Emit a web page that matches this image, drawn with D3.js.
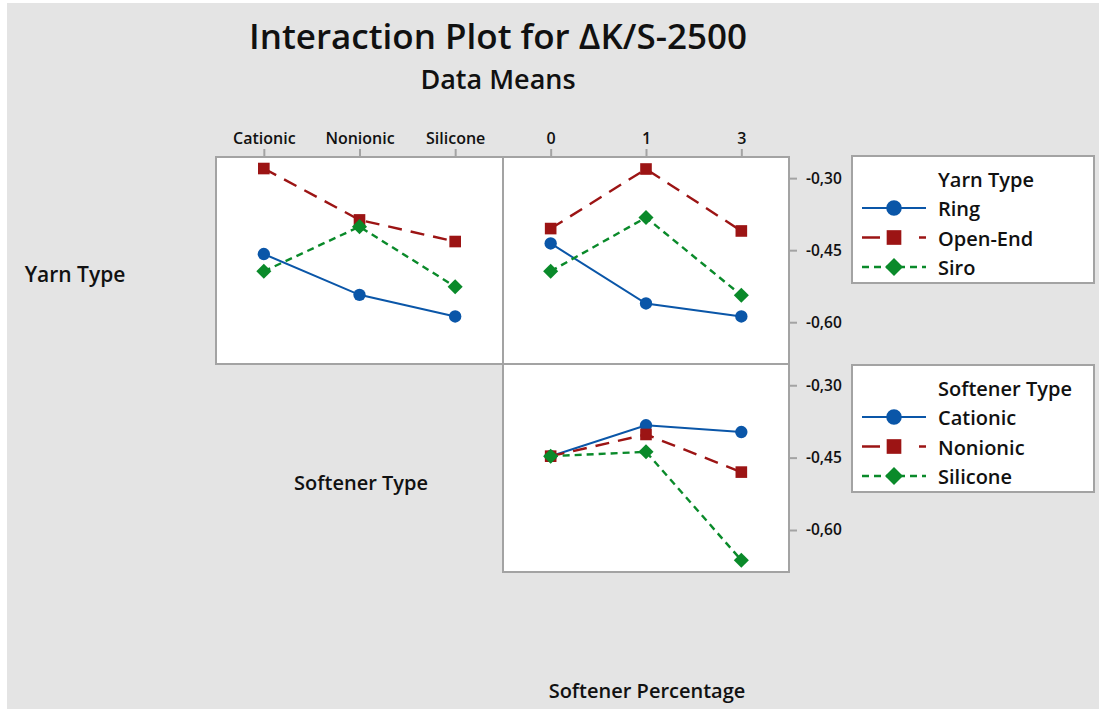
<!DOCTYPE html>
<html>
<head>
<meta charset="utf-8">
<script src="https://cdn.jsdelivr.net/npm/d3@7"></script>
<style>
  html, body { margin: 0; padding: 0; background: #ffffff; }
  svg { display: block; }
  text { font-family: "Open Sans", "Noto Sans", sans-serif; font-weight: 600; fill: #111; }
</style>
</head>
<body>
<svg id="chart" width="1099" height="709"></svg>
<script>
// Factor levels
const softenerTypes = ["Cationic", "Nonionic", "Silicone"];
const softenerPercentages = ["0", "1", "3"];
const yarnTypes = ["Ring", "Open-End", "Siro"];

// Means of ΔK/S-2500 for each yarn type across softener types
const ringBySoftener     = [-0.458, -0.543, -0.588];
const openEndBySoftener  = [-0.280, -0.387, -0.432];
const siroBySoftener     = [-0.494, -0.401, -0.526];

// Means for each yarn type across softener percentages
const ringByPercent      = [-0.436, -0.561, -0.588];
const openEndByPercent   = [-0.405, -0.281, -0.410];
const siroByPercent      = [-0.494, -0.382, -0.544];

// Means for each softener type across softener percentages
const cationicByPercent  = [-0.447, -0.383, -0.397];
const nonionicByPercent  = [-0.447, -0.402, -0.480];
const siliconeByPercent  = [-0.447, -0.438, -0.6625];

// Response axis ticks
const yTicks = [-0.30, -0.45, -0.60];
const yDomain = [-0.687, -0.256];

const svg = d3.select("#chart");
const W = 1099, H = 709;

// Canvas background
svg.append("rect").attr("x", 7).attr("y", 3).attr("width", W - 7).attr("height", H - 3).attr("fill", "#e4e4e4");

// Series styling (Minitab-like)
const styles = [
  { color: "#0a56a8", dash: null,   width: 2,   symbol: d3.symbolCircle,   size: 120, legendSize: 190 },
  { color: "#9c1414", dash: "14,9", width: 2.4, symbol: d3.symbolSquare,   size: 135, legendSize: 215 },
  { color: "#0a8a2a", dash: "7,5",  width: 2.4, symbol: d3.symbolDiamond2, size: 145, legendSize: 205 }
];

const locale = d3.formatLocale({ decimal: ",", thousands: ".", grouping: [3], currency: ["", ""], minus: "-" });
const fmt = locale.format(".2f");

// Panel grid
const colX = [216, 503, 789];
const rowY = [157, 364, 572];

function panel(x0, x1, y0, y1) {
  svg.append("rect")
    .attr("x", x0).attr("y", y0).attr("width", x1 - x0).attr("height", y1 - y0)
    .attr("fill", "#ffffff").attr("stroke", "#a3a3a3").attr("stroke-width", 2);
}

function drawSeries(xScale, yScale, cats, seriesList) {
  const g = svg.append("g");
  seriesList.forEach((vals, i) => {
    const st = styles[i];
    const pts = cats.map((c, j) => [xScale(c), yScale(vals[j])]);
    g.append("path")
      .attr("d", d3.line()(pts))
      .attr("fill", "none")
      .attr("stroke", st.color)
      .attr("stroke-width", st.width)
      .attr("stroke-dasharray", st.dash);
  });
  seriesList.forEach((vals, i) => {
    const st = styles[i];
    g.selectAll(null).data(vals).join("path")
      .attr("transform", (v, j) => `translate(${xScale(cats[j])},${yScale(v)})`)
      .attr("d", d3.symbol().type(st.symbol).size(st.size))
      .attr("fill", st.color);
  });
}

function styleAxis(g, fontSize) {
  g.select(".domain").remove();
  g.selectAll(".tick line").attr("stroke", "#a3a3a3").attr("stroke-width", 2);
  g.selectAll(".tick text")
    .attr("fill", "#111")
    .style("font-family", '"Open Sans", "Noto Sans", sans-serif')
    .style("font-weight", 600)
    .style("font-size", fontSize + "px");
}

// Panels
panel(colX[0], colX[1], rowY[0], rowY[1]);
panel(colX[1], colX[2], rowY[0], rowY[1]);
panel(colX[1], colX[2], rowY[1], rowY[2]);

// Scales
const xSoft = d3.scalePoint().domain(softenerTypes).range([colX[0], colX[1]]).padding(0.5);
const xPct = d3.scalePoint().domain(softenerPercentages).range([colX[1], colX[2]]).padding(0.5);
const yTop = d3.scaleLinear().domain(yDomain).range([rowY[1], rowY[0]]);
const yBot = d3.scaleLinear().domain(yDomain).range([rowY[2], rowY[1]]);

// Axes
styleAxis(svg.append("g").attr("transform", `translate(0,${rowY[0]})`)
  .call(d3.axisTop(xSoft).tickSize(8).tickPadding(5)), 16);
styleAxis(svg.append("g").attr("transform", `translate(0,${rowY[0]})`)
  .call(d3.axisTop(xPct).tickSize(8).tickPadding(5)), 16);
styleAxis(svg.append("g").attr("transform", `translate(${colX[2]},0)`)
  .call(d3.axisRight(yTop).tickValues(yTicks).tickFormat(fmt).tickSize(8).tickPadding(9)), 15.5);
styleAxis(svg.append("g").attr("transform", `translate(${colX[2]},0)`)
  .call(d3.axisRight(yBot).tickValues(yTicks).tickFormat(fmt).tickSize(8).tickPadding(9)), 15.5);

// Lines and markers
drawSeries(xSoft, yTop, softenerTypes, [ringBySoftener, openEndBySoftener, siroBySoftener]);
drawSeries(xPct, yTop, softenerPercentages, [ringByPercent, openEndByPercent, siroByPercent]);
drawSeries(xPct, yBot, softenerPercentages, [cationicByPercent, nonionicByPercent, siliconeByPercent]);

// Titles
svg.append("text").attr("x", 498).attr("y", 49).attr("text-anchor", "middle")
  .style("font-size", "35px").text("Interaction Plot for ΔK/S-2500");
svg.append("text").attr("x", 498).attr("y", 89).attr("text-anchor", "middle")
  .style("font-size", "27px").text("Data Means");

// Diagonal factor labels
svg.append("text").attr("x", 75).attr("y", 282).attr("text-anchor", "middle")
  .style("font-size", "21px").text("Yarn Type");
svg.append("text").attr("x", 361).attr("y", 490).attr("text-anchor", "middle")
  .style("font-size", "20px").text("Softener Type");
svg.append("text").attr("x", 647).attr("y", 698).attr("text-anchor", "middle")
  .style("font-size", "20px").text("Softener Percentage");

// Legends
function legend(y0, title, names) {
  const g = svg.append("g");
  g.append("rect").attr("x", 852).attr("y", y0).attr("width", 242).attr("height", 127)
    .attr("fill", "#ffffff").attr("stroke", "#a3a3a3").attr("stroke-width", 2);
  g.append("text").attr("x", 938).attr("y", y0 + 31).style("font-size", "20px").text(title);
  names.forEach((n, i) => {
    const st = styles[i];
    const ly = y0 + 52 + i * 29.5;
    g.append("line").attr("x1", 862).attr("x2", 926).attr("y1", ly).attr("y2", ly)
      .attr("stroke", st.color).attr("stroke-width", st.width)
      .attr("stroke-dasharray", i === 1 ? "18,9,0,30,7" : st.dash);
    g.append("path").attr("transform", `translate(894,${ly})`)
      .attr("d", d3.symbol().type(st.symbol).size(st.legendSize)).attr("fill", st.color);
    g.append("text").attr("x", 938).attr("y", ly + 8).style("font-size", "20px").text(n);
  });
}
legend(156, "Yarn Type", yarnTypes);
legend(365, "Softener Type", softenerTypes);
</script>
</body>
</html>
